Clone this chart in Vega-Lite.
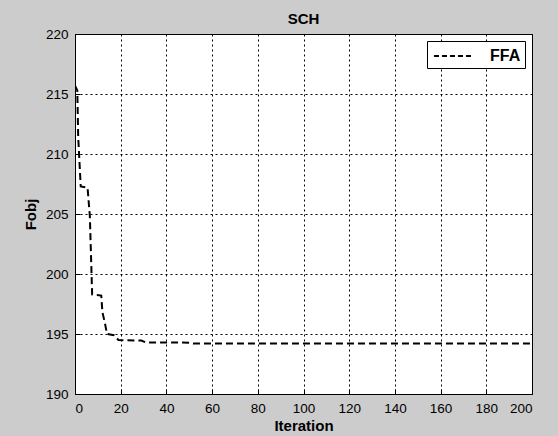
{
  "$schema": "https://vega.github.io/schema/vega-lite/v6.json",
  "autosize": {"type": "none"},
  "width": 457,
  "height": 360,
  "padding": {"left": 75, "top": 34, "right": 26, "bottom": 42},
  "background": "#cccccc",
  "title": {"text": "SCH", "fontSize": 15, "fontWeight": "bold", "font": "Liberation Sans", "color": "black", "anchor": "middle", "frame": "group", "offset": 0},
  "config": {
    "view": {"stroke": "black", "strokeWidth": 1, "fill": "white"},
    "axis": {
      "grid": true, "gridColor": "black", "gridDash": [2, 3], "gridOpacity": 1, "gridWidth": 1,
      "ticks": true, "tickSize": -5, "tickColor": "black", "tickWidth": 1, "domain": false,
      "labelFont": "Liberation Sans", "labelFontSize": 13.5, "labelColor": "black",
      "titleFont": "Liberation Sans", "titleFontSize": 15, "titleFontWeight": "bold", "titleColor": "black"
    }
  },
  "data": {"values": [
    {"Iteration": 0, "Fobj": 215.7, "series": "FFA"},
    {"Iteration": 1, "Fobj": 215.3, "series": "FFA"},
    {"Iteration": 1.4, "Fobj": 211.4, "series": "FFA"},
    {"Iteration": 2.5, "Fobj": 207.3, "series": "FFA"},
    {"Iteration": 5.5, "Fobj": 207.2, "series": "FFA"},
    {"Iteration": 6.5, "Fobj": 204.8, "series": "FFA"},
    {"Iteration": 7.5, "Fobj": 198.3, "series": "FFA"},
    {"Iteration": 11.5, "Fobj": 198.2, "series": "FFA"},
    {"Iteration": 12, "Fobj": 196.8, "series": "FFA"},
    {"Iteration": 13, "Fobj": 196.0, "series": "FFA"},
    {"Iteration": 14, "Fobj": 195.0, "series": "FFA"},
    {"Iteration": 17, "Fobj": 194.9, "series": "FFA"},
    {"Iteration": 19, "Fobj": 194.5, "series": "FFA"},
    {"Iteration": 29, "Fobj": 194.45, "series": "FFA"},
    {"Iteration": 31, "Fobj": 194.3, "series": "FFA"},
    {"Iteration": 50, "Fobj": 194.28, "series": "FFA"},
    {"Iteration": 52, "Fobj": 194.2, "series": "FFA"},
    {"Iteration": 200, "Fobj": 194.2, "series": "FFA"}
  ]},
  "mark": {"type": "line", "strokeDash": [7, 4], "strokeWidth": 2, "clip": true},
  "encoding": {
    "x": {"field": "Iteration", "type": "quantitative", "scale": {"domain": [0, 200], "nice": false, "zero": false},
      "axis": {"values": [0, 20, 40, 60, 80, 100, 120, 140, 160, 180, 200], "labelPadding": 12, "title": "Iteration", "titlePadding": 4}},
    "y": {"field": "Fobj", "type": "quantitative", "scale": {"domain": [190, 220], "nice": false, "zero": false},
      "axis": {"values": [190, 195, 200, 205, 210, 215, 220], "labelPadding": 12, "title": "Fobj", "titlePadding": 7}},
    "color": {"field": "series", "type": "nominal", "scale": {"range": ["black"]},
      "legend": {"title": null, "orient": "top-right", "offset": 7, "fillColor": "white", "strokeColor": "black", "padding": 4,
        "symbolType": "M-2,0H2", "symbolStrokeWidth": 2, "symbolDash": [5, 3], "symbolSize": 400, "symbolStrokeColor": "black", "symbolFillColor": "transparent", "symbolOffset": 12,
        "labelFont": "Liberation Sans", "labelFontSize": 16, "labelFontWeight": "bold", "labelColor": "black", "labelOffset": 25}}
  }
}
